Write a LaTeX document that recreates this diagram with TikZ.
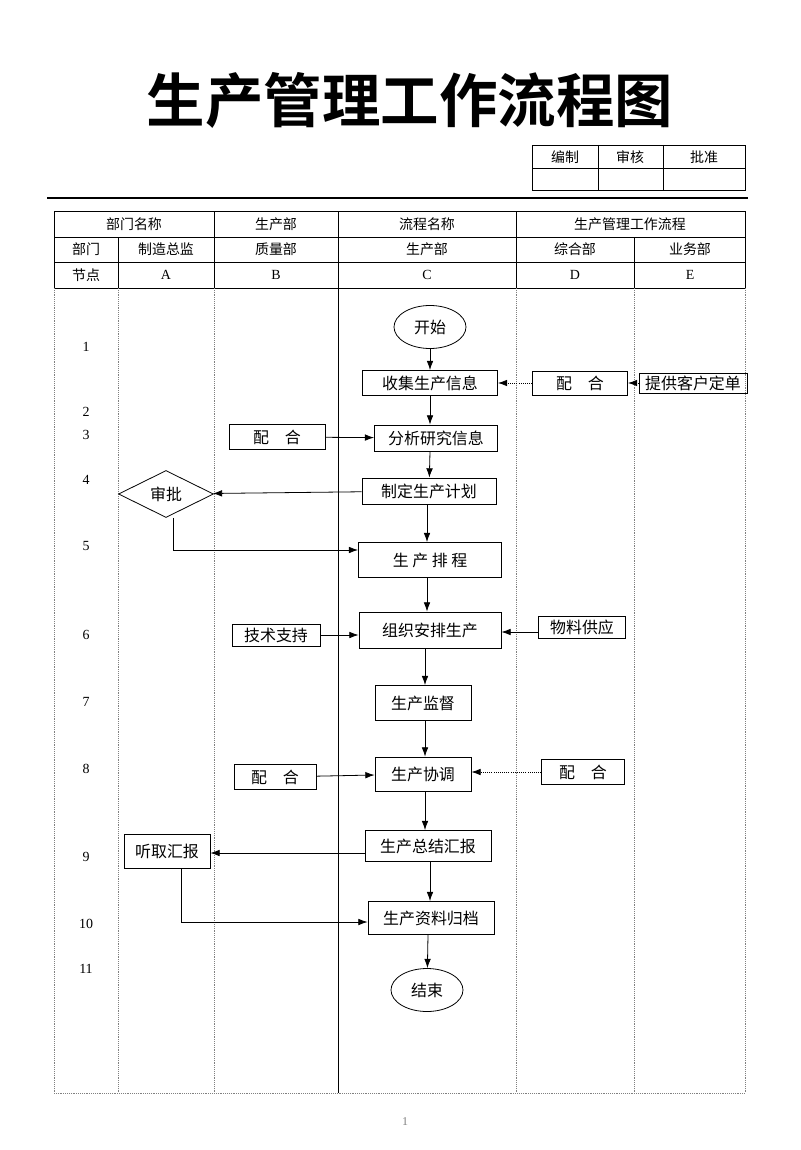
\documentclass[tikz,border=0pt]{standalone}
\usepackage{fontspec}
\setmainfont{Liberation Serif}
\newfontfamily\cjk{Noto Sans CJK SC}
\newfontfamily\cjkbold{Noto Sans CJK SC Bold}
\usetikzlibrary{shapes.geometric,arrows.meta}
\newlength\pu
\setlength\pu{0.02646cm}
\begin{document}
\begin{tikzpicture}[x=1\pu, y=-1\pu,
    box/.style={rectangle, draw, semithick, font=\cjk\fontsize{12}{14}\selectfont, inner sep=0pt},
    oval/.style={ellipse, draw, semithick, minimum width=72\pu, minimum height=43\pu, font=\cjk\fontsize{12}{14}\selectfont},
    cell/.style={font=\cjk\fontsize{10.5}{12}\selectfont},
    letter/.style={font=\fontsize{10.5}{12}\selectfont},
    lane/.style={densely dotted, gray},
    arrow/.style={semithick, -{Latex[length=7pt,width=5pt]}},
    dotarrow/.style={semithick, densely dotted, -{Latex[length=7pt,width=5pt]}}
]
\useasboundingbox (0,0) rectangle (800,1150);

% Title and sign-off table
\node[font=\cjkbold\fontsize{44}{48}\selectfont] (title) at (410,100) {生产管理工作流程图};
\draw (532,145) rectangle (745,190);
\draw (532,168) -- (745,168);
\draw (598,145) -- (598,190);
\draw (663,145) -- (663,190);
\node[cell] (bz) at (565,157) {编制};
\node[cell] (sh) at (630,157) {审核};
\node[cell] (pz) at (704,157) {批准};
\draw[thick] (47,198) -- (748,198);

% Header table
\draw (54,211) rectangle (745,288);
\draw (54,237) -- (745,237);
\draw (54,262) -- (745,262);
\draw (214,211) -- (214,288);
\draw (338,211) -- (338,1093);
\draw (516,211) -- (516,288);
\draw (118,237) -- (118,288);
\draw (634,237) -- (634,288);
\node[cell] (h1) at (134,224) {部门名称};
\node[cell] (h2) at (276,224) {生产部};
\node[cell] (h3) at (427,224) {流程名称};
\node[cell] (h4) at (630,224) {生产管理工作流程};
\node[cell] (d0) at (86,249) {部门};
\node[cell] (dA) at (166,249) {制造总监};
\node[cell] (dB) at (276,249) {质量部};
\node[cell] (dC) at (427,249) {生产部};
\node[cell] (dD) at (575,249) {综合部};
\node[cell] (dE) at (690,249) {业务部};
\node[cell] (n0) at (86,275) {节点};
\node[letter] (nA) at (166,275) {A};
\node[letter] (nB) at (276,275) {B};
\node[letter] (nC) at (427,275) {C};
\node[letter] (nD) at (575,275) {D};
\node[letter] (nE) at (690,275) {E};

% Lanes
\foreach \x in {54,118,214,516,634,745}
  \draw[lane] (\x,288) -- (\x,1093);
\draw[lane] (54,1093) -- (745,1093);

% Node numbers
\foreach \n/\y in {1/347,2/412,3/435,4/480,5/546,6/635,7/702,8/769,9/857,10/924,11/969}
  \node[letter] at (86,\y) {\n};

% Flow
\node[oval] (start) at (430,327) {开始};
\node[box, minimum width=135\pu, minimum height=25\pu] (collect) at (430,383) {收集生产信息};
\node[box, minimum width=95\pu, minimum height=24\pu] (cooD1) at (580,383) {配\quad 合};
\node[box, minimum width=108\pu, minimum height=20\pu] (order) at (693,383) {提供客户定单};
\node[box, minimum width=96\pu, minimum height=25\pu] (cooB1) at (277,437) {配\quad 合};
\node[box, minimum width=123\pu, minimum height=26\pu] (analyse) at (436,438) {分析研究信息};
\node[diamond, draw, semithick, aspect=2, minimum width=95\pu, minimum height=47\pu, inner sep=0pt, font=\cjk\fontsize{12}{14}\selectfont] (approve) at (166,494) {审批};
\node[box, minimum width=134\pu, minimum height=26\pu] (plan) at (429,491) {制定生产计划};
\node[box, minimum width=143\pu, minimum height=35\pu] (sched) at (430,560) {生\ 产\ 排\ 程};
\node[box, minimum width=88\pu, minimum height=22\pu] (tech) at (276,635) {技术支持};
\node[box, minimum width=142\pu, minimum height=36\pu] (organise) at (430,630) {组织安排生产};
\node[box, minimum width=87\pu, minimum height=22\pu] (material) at (582,627) {物料供应};
\node[box, minimum width=96\pu, minimum height=35\pu] (monitor) at (423,703) {生产监督};
\node[box, minimum width=82\pu, minimum height=25\pu] (cooB2) at (275,777) {配\quad 合};
\node[box, minimum width=96\pu, minimum height=34\pu] (coord) at (423,774) {生产协调};
\node[box, minimum width=83\pu, minimum height=25\pu] (cooD2) at (583,772) {配\quad 合};
\node[box, minimum width=126\pu, minimum height=31\pu] (summary) at (428,846) {生产总结汇报};
\node[box, minimum width=86\pu, minimum height=34\pu] (report) at (167,851) {听取汇报};
\node[box, minimum width=126\pu, minimum height=33\pu] (archive) at (431,918) {生产资料归档};
\node[oval] (end) at (427,990) {结束};

% Arrows
\draw[arrow] (start) -- (collect);
\draw[arrow] (collect) -- (collect |- analyse.north);
\draw[arrow] (analyse.south -| collect) -- (plan);
\draw[arrow] (plan.south -| 427,0) -- (sched.north -| 427,0);
\draw[dotarrow] (cooD1) -- (collect);
\draw[dotarrow] (order) -- (cooD1);
\draw[arrow] (cooB1) -- (analyse);
\draw[arrow] (plan) -- (approve);
\draw[arrow] (approve.south -| 173,0) |- (sched.west |- 0,550);
\draw[arrow] (sched.south -| 427,0) -- (organise.north -| 427,0);
\draw[arrow] (tech) -- (organise.west |- tech);
\draw[arrow] (material.west |- 0,632) -- (organise.east |- 0,632);
\draw[arrow] (organise.south -| 425,0) -- (monitor.north -| 425,0);
\draw[arrow] (monitor.south -| 425,0) -- (coord.north -| 425,0);
\draw[arrow] (cooB2) -- (coord.west |- 0,775);
\draw[dotarrow] (cooD2) -- (coord.east |- cooD2);
\draw[arrow] (coord.south -| 425,0) -- (summary.north -| 425,0);
\draw[arrow] (summary.west |- 0,853) -- (report.east |- 0,853);
\draw[arrow] (report.south -| 181,0) |- (archive.west |- 0,922);
\draw[arrow] (summary.south -| 430,0) -- (archive.north -| 430,0);
\draw[arrow] (archive.south -| 428,0) -- (end);

% Page number
\node[gray, font=\fontsize{9}{10}\selectfont] (page) at (405,1122) {1};
\end{tikzpicture}
\end{document}
